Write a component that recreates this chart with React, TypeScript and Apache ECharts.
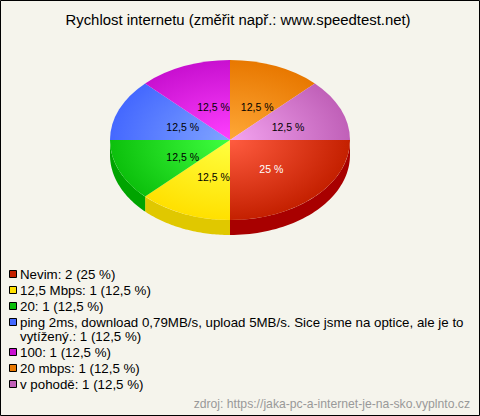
import React, { useEffect, useRef } from "react";
import * as echarts from "echarts";

const TITLE = "Rychlost internetu (změřit např.: www.speedtest.net)";
const SOURCE = "zdroj: https://jaka-pc-a-internet-je-na-sko.vyplnto.cz";
const names = ["Nevim", "12,5 Mbps", "20", "ping 2ms, download 0,79MB/s, upload 5MB/s. Sice jsme na optice, ale je to\nvytížený.", "100", "20 mbps", "v pohodě"];
const values = [2, 1, 1, 1, 1, 1, 1];
const pieLabels = ["25 %", "12,5 %", "12,5 %", "12,5 %", "12,5 %", "12,5 %", "12,5 %"];
const legendLabels = ["2 (25 %)", "1 (12,5 %)", "1 (12,5 %)", "1 (12,5 %)", "1 (12,5 %)", "1 (12,5 %)", "1 (12,5 %)"];
const edgeColors = ["#c42000", "#ffe000", "#0cc00c", "#4468ff", "#c810d0", "#e87800", "#c060b8"];
const centerColors = ["#ff5c40", "#ffff40", "#40ff40", "#80a4ff", "#ff40ff", "#ffa838", "#f4a4f0"];
const sideColors = ["#a80000", "#e0c800", "#00a400", "#2848c0", "#9000a0", "#b05000", "#904088"];
const labelColors = ["#ffffff", "#000000", "#000000", "#000000", "#000000", "#000000", "#000000"];

const CX = 230, CY = 140, RX = 120, RY = 80, DEPTH = 15;
const FONT = '"Liberation Sans", Arial, sans-serif';
const total = values.reduce((a, b) => a + b, 0);

function App() {
  const ref = useRef<HTMLDivElement>(null);
  useEffect(() => {
    document.body.style.margin = "0";
    const chart = echarts.init(ref.current!, null, { renderer: "svg" });

    const renderItem = (params: any, api: any) => {
      const i = params.dataIndex;
      let before = 0;
      for (let k = 0; k < i; k++) before += values[k];
      const a0 = (before / total) * Math.PI * 2;
      const a1 = ((before + api.value(0)) / total) * Math.PI * 2;
      const mid = (a0 + a1) / 2;
      const children: any[] = [];

      if (a0 < Math.PI) {
        const end = Math.min(a1, Math.PI);
        const top: number[][] = [];
        const bottom: number[][] = [];
        const n = 48;
        for (let s = 0; s <= n; s++) {
          const a = a0 + ((end - a0) * s) / n;
          const x = CX + RX * Math.cos(a);
          const y = CY + RY * Math.sin(a);
          top.push([x, y]);
          bottom.unshift([x, y + DEPTH]);
        }
        children.push({
          type: "polygon",
          shape: { points: top.concat(bottom) },
          style: { fill: sideColors[i] },
        });
      }

      children.push({
        type: "sector",
        x: CX,
        y: CY,
        scaleX: 1,
        scaleY: RY / RX,
        shape: { cx: 0, cy: 0, r0: 0, r: RX, startAngle: a0, endAngle: a1, clockwise: true },
        style: {
          fill: new echarts.graphic.RadialGradient(0, 0, RX, [
            { offset: 0, color: centerColors[i] },
            { offset: 1, color: edgeColors[i] },
          ], true),
        },
      });

      children.push({
        type: "text",
        x: CX - 11 + RX * 0.475 * Math.cos(mid),
        y: CY + 2 + RY * 0.475 * Math.sin(mid),
        style: {
          text: pieLabels[i],
          fill: labelColors[i],
          font: `10.5px ${FONT}`,
          align: "left",
          verticalAlign: "middle",
        },
      });
      return { type: "group", children };
    };

    const rowStep = 16, wrapStep = 14;
    const legend: any[] = [];
    let y = 274;
    names.forEach((name, i) => {
      legend.push({
        type: "rect",
        shape: { x: 9.5, y: y - 3.5, width: 7, height: 7 },
        style: { fill: edgeColors[i], stroke: "#000000", lineWidth: 1 },
      });
      const parts = (name + ": " + legendLabels[i]).split("\n");
      parts.forEach((part, j) => {
        legend.push({
          type: "text",
          x: 20,
          y: y + j * wrapStep,
          style: { text: part, fill: "#000000", font: `13.3px ${FONT}`, align: "left", verticalAlign: "middle" },
        });
      });
      y += rowStep + (parts.length - 1) * wrapStep;
    });

    chart.setOption({
      animation: false,
      backgroundColor: "#f5f4ec",
      title: {
        text: TITLE,
        left: 238,
        top: 12,
        textAlign: "center",
        textStyle: { color: "#000000", fontSize: 14.9, fontWeight: "normal", fontFamily: FONT },
      },
      graphic: [
        {
          type: "rect",
          shape: { x: 0.5, y: 0.5, width: 479, height: 415 },
          style: { fill: "none", stroke: "#000000", lineWidth: 1 },
        },
        ...legend,
        {
          type: "text",
          x: 470,
          y: 404,
          style: { text: SOURCE, fill: "#999999", font: `12.2px ${FONT}`, align: "right", verticalAlign: "middle" },
        },
      ],
      series: [
        {
          type: "custom",
          coordinateSystem: "none",
          silent: true,
          renderItem,
          data: values.map((v, i) => ({ name: names[i], value: [v] })),
        },
      ],
    });
    chart.setOption({ title: { left: 233, top: 7 } });
    return () => chart.dispose();
  }, []);
  return <div ref={ref} style={{ width: 480, height: 416 }} />;
}

export default App;
